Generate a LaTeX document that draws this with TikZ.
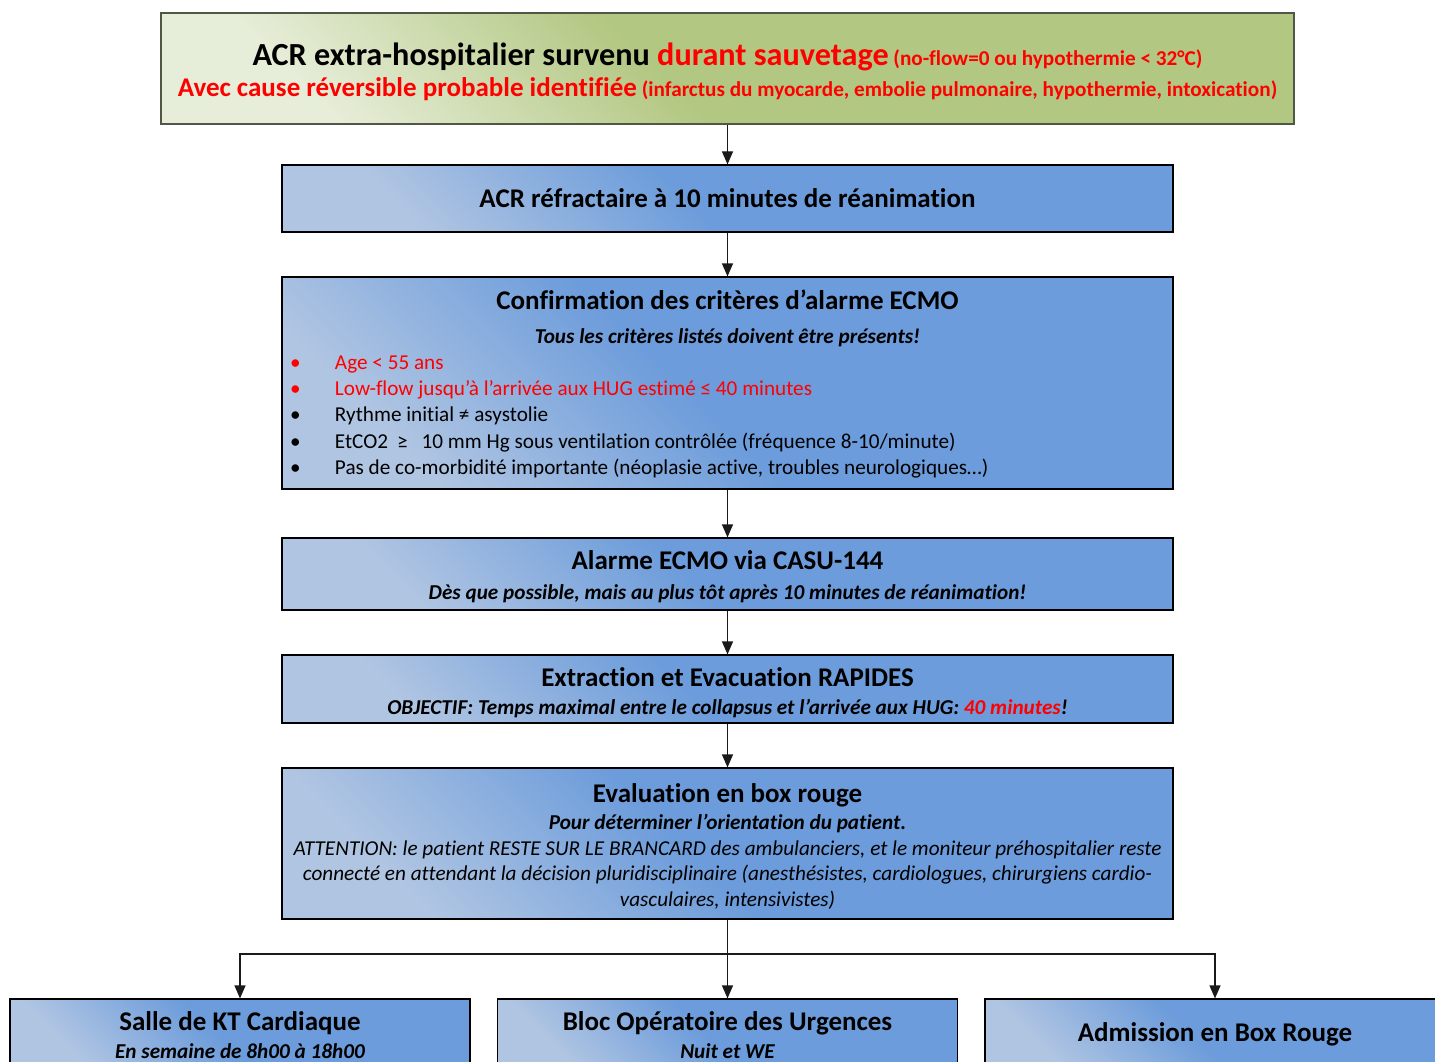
\documentclass[tikz,border=0pt]{standalone}
\usepackage{fontspec}
\setmainfont{Carlito}[Ligatures=NoCommon]
\usetikzlibrary{arrows.meta}

\definecolor{boxBlue}{HTML}{6C9CDB}
\definecolor{boxLight}{HTML}{B0C5E2}
\definecolor{topGreen}{HTML}{B2C781}
\definecolor{topLight}{HTML}{E6EDD8}
\definecolor{lineGray}{HTML}{1A1A1A}
\definecolor{topEdge}{HTML}{4F5846}

\pgfdeclareverticalshading{bluefade}{100bp}{color(0bp)=(boxLight); color(25bp)=(boxLight);
    color(47bp)=(boxBlue); color(100bp)=(boxBlue)}
\pgfdeclareverticalshading{greenfade}{100bp}{color(0bp)=(topLight); color(25bp)=(topLight);
    color(46bp)=(topGreen); color(100bp)=(topGreen)}

\newcommand{\boxhead}{\fontsize{27}{32}\selectfont\bfseries}
\newcommand{\boxbody}{\fontsize{21.2}{26.3}\selectfont}
\newcommand{\boxsub}{\fontsize{21.2}{26.3}\selectfont\bfseries\itshape}
% pushes the first line down a little
\newcommand{\boxstrut}[1]{\rule{0pt}{\dimexpr\fontcharht\font`\l+#1\relax}}

\begin{document}
\begin{tikzpicture}[x=1pt, y=-1pt,
    stepbox/.style={draw=black, line width=1.2pt, shading=bluefade, shading angle=-45,
        inner sep=0pt, minimum width=891pt, align=center, font=\boxbody},
    destbox/.style={stepbox, minimum width=460pt, minimum height=70pt},
    link/.style={draw=lineGray, line width=1.2pt, -{Triangle[width=11pt,length=13pt]}}]

    % Page frame
    \useasboundingbox (0,0) rectangle (1435,1062);
    \clip (0,0) rectangle (1435,1062);

    % Starting situation
    \node[stepbox, draw=topEdge, shading=greenfade, shading angle=-45,
        minimum width=1133pt, minimum height=111pt] (acr) at (727.5,68.5)
        {{\fontsize{32.2}{37}\selectfont\bfseries\boxstrut{7pt}ACR extra-hospitalier survenu
          \textcolor{red}{durant sauvetage}} \textcolor{red}{\bfseries(no-flow=0 ou hypothermie < 32°C)}\\[5pt]
         \textcolor{red}{\bfseries{\boxhead Avec cause réversible probable identifiée}
          (infarctus du myocarde, embolie pulmonaire, hypothermie, intoxication)}};

    % Steps
    \node[stepbox, minimum height=67pt] (refr) at (727.5,198.5)
        {\boxhead ACR réfractaire à 10 minutes de réanimation};

    \node[stepbox, minimum height=212pt] (crit) at (727.5,383)
        {{\boxhead\boxstrut{3pt}Confirmation des critères d’alarme ECMO}\\[7pt]
         {\boxsub Tous les critères listés doivent être présents!}\\
         \makebox[875pt][l]{\textcolor{red}{\makebox[45pt][l]{•}Age < 55 ans}}\\
         \makebox[875pt][l]{\textcolor{red}{\makebox[45pt][l]{•}Low-flow jusqu’à l’arrivée aux HUG estimé ≤ 40 minutes}}\\
         \makebox[875pt][l]{\makebox[45pt][l]{•}Rythme initial ≠ asystolie}\\
         \makebox[875pt][l]{\makebox[45pt][l]{•}EtCO2\hspace{9pt}≥\hspace{14pt}10 mm Hg sous ventilation contrôlée (fréquence 8-10/minute)}\\
         \makebox[875pt][l]{\makebox[45pt][l]{•}Pas de co-morbidité importante (néoplasie active, troubles neurologiques…)}};

    \node[stepbox, minimum height=72pt] (alarm) at (727.5,574)
        {{\boxhead\boxstrut{5pt}Alarme ECMO via CASU-144}\\[3.5pt]
         {\boxsub Dès que possible, mais au plus tôt après 10 minutes de réanimation!}};

    \node[stepbox, minimum height=68pt] (extr) at (727.5,689)
        {{\boxhead\boxstrut{7pt}Extraction et Evacuation RAPIDES}\\[1.5pt]
         {\boxsub OBJECTIF: Temps maximal entre le collapsus et l’arrivée aux HUG: \textcolor{red}{40 minutes}!}};

    \node[stepbox, minimum height=151pt, font=\fontsize{21.2}{25.6}\selectfont] (eval) at (727.5,843.5)
        {{\boxhead\boxstrut{6pt}Evaluation en box rouge}\\[1pt]
         {\boxsub Pour déterminer l’orientation du patient.}\\
         {\itshape ATTENTION: le patient RESTE SUR LE BRANCARD des ambulanciers, et le moniteur préhospitalier reste}\\
         {\itshape connecté en attendant la décision pluridisciplinaire (anesthésistes, cardiologues, chirurgiens cardio-}\\
         {\itshape vasculaires, intensivistes)}};

    % Destinations
    \node[destbox] (kt) at (240,1034)
        {{\boxhead\boxstrut{2pt}Salle de KT Cardiaque}\\[1.5pt] {\boxsub En semaine de 8h00 à 18h00}};
    \node[destbox] (bloc) at (727.5,1034)
        {{\boxhead\boxstrut{2pt}Bloc Opératoire des Urgences}\\[1.5pt] {\boxsub Nuit et WE}};
    \node[destbox] (admis) at (1215,1034)
        {\boxhead Admission en Box Rouge};

    % Arrows
    \draw[link] (acr.south) -- (refr.north);
    \draw[link] (refr.south) -- (crit.north);
    \draw[link] (crit.south) -- (alarm.north);
    \draw[link] (alarm.south) -- (extr.north);
    \draw[link] (extr.south) -- (eval.north);

    \coordinate (split) at (727.5,954);
    \draw[lineGray, line width=1.2pt] (eval.south) -- (split);
    \foreach \dest in {kt,bloc,admis}
        \draw[link] (split) -| (\dest.north);

\end{tikzpicture}
\end{document}
